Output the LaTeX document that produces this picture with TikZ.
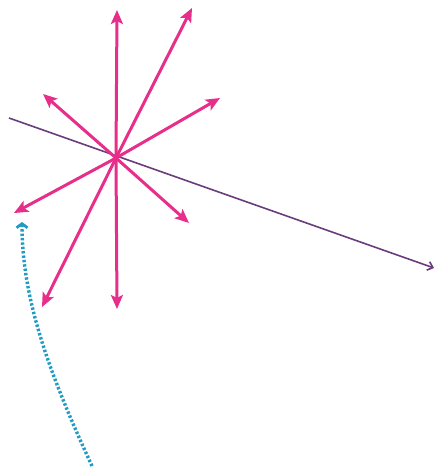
\documentclass[tikz,border=0pt]{standalone}
\usetikzlibrary{arrows.meta}
\definecolor{rayPink}{HTML}{E62E8A}
\definecolor{axisPurple}{HTML}{6A3C7C}
\definecolor{dotBlue}{HTML}{1F9BC4}
\tikzset{
  ray/.style={draw=rayPink, line width=3pt, -{Stealth[length=14pt,width=12pt,inset=3pt]}},
  axisline/.style={draw=axisPurple, line width=1.6pt, -{Straight Barb[length=5pt,width=9pt]}},
  dotpath/.style={draw=dotBlue, line width=3.4pt, dash pattern=on 2.4pt off 2pt, -{Straight Barb[length=4pt,width=11pt,line width=2.8pt]}}
}
\begin{document}
\begin{tikzpicture}[x=1pt,y=-1pt]
\useasboundingbox (0,0) rectangle (435,469);
\coordinate (c) at (116,158);
\coordinate (tUp) at (117,10);
\coordinate (tUR) at (192,8);
\coordinate (tR) at (220,98);
\coordinate (tUL) at (43,94);
\coordinate (tL) at (14,213);
\coordinate (tLD) at (42,307);
\coordinate (tD) at (117,309);
\coordinate (tDR) at (189,223);
\coordinate (aL) at (9,118);
\coordinate (aR) at (434,268);
\coordinate (bS) at (92,466);
\coordinate (bE) at (22,222);
\draw[axisline] (aL) -- (aR);
\foreach \t in {tUp,tUR,tR,tUL,tL,tLD,tD,tDR} \draw[ray] (c) -- (\t);
\draw[dotpath] (bS) .. controls (50,375) and (22,300) .. (bE);
\end{tikzpicture}
\end{document}
